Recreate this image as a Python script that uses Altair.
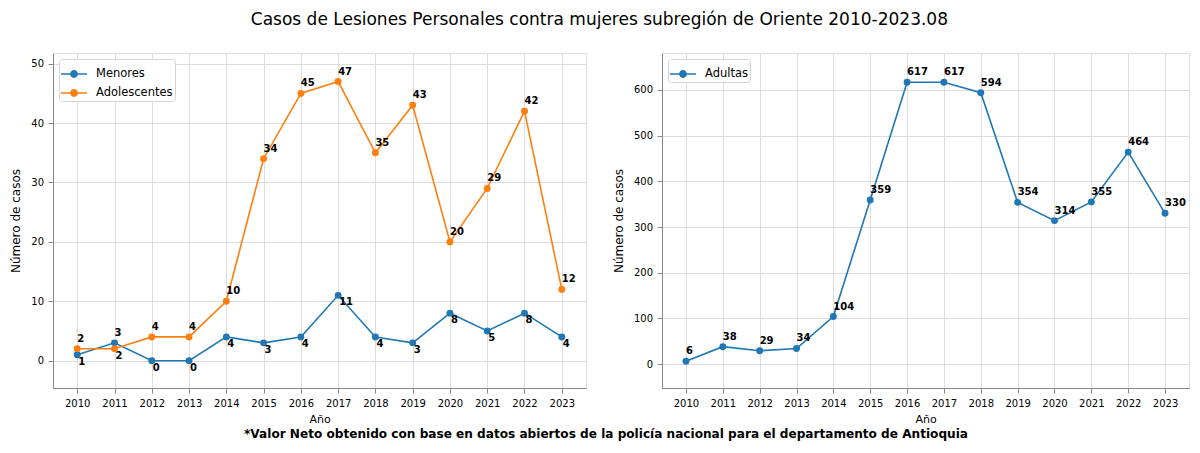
import altair as alt
import pandas as pd

years = list(range(2010, 2024))
menores = [1, 3, 0, 0, 4, 3, 4, 11, 4, 3, 8, 5, 8, 4]
adolescentes = [2, 2, 4, 4, 10, 34, 45, 47, 35, 43, 20, 29, 42, 12]
adultas = [6, 38, 29, 34, 104, 359, 617, 617, 594, 354, 314, 355, 464, 330]

title_text = "Casos de Lesiones Personales contra mujeres subregión de Oriente 2010-2023.08"
foot_text = "*Valor Neto obtenido con base en datos abiertos de la policía nacional para el departamento de Antioquia"

BLUE = "#1f77b4"
ORANGE = "#ff7f0e"
FONT = "DejaVu Sans"
H = 335

# label above the point for the larger series of the pair, below for the smaller
pos_men = ["above" if m > a else "below" for m, a in zip(menores, adolescentes)]
pos_ado = ["above" if a >= m else "below" for m, a in zip(menores, adolescentes)]

left_df = pd.DataFrame(
    {"Año": years * 2,
     "casos": menores + adolescentes,
     "serie": ["Menores"] * 14 + ["Adolescentes"] * 14,
     "pos": pos_men + pos_ado}
)
right_df = pd.DataFrame({"Año": years, "casos": adultas, "serie": ["Adultas"] * 14,
                         "pos": ["above"] * 14})

# legend glyph: short line with a dot in the middle (matplotlib style)
LEG_SYMBOL = ("M-1,-0.055 L1,-0.055 L1,0.055 L-1,0.055 Z "
              "M-0.3,0 A0.3,0.3 0 1,1 0.3,0 A0.3,0.3 0 1,1 -0.3,0 Z")

xenc = alt.X(
    "Año:Q",
    scale=alt.Scale(domain=[2009.35, 2023.65], nice=False, zero=False),
    axis=alt.Axis(values=years, format="d", title="Año", labelFlush=False,
                  tickSize=5, labelPadding=5, titlePadding=5, titleFontWeight="normal"),
)


def panel(df, domain, colors, ydom, yvals, width):
    color = alt.Color(
        "serie:N",
        scale=alt.Scale(domain=domain, range=colors),
        sort=domain,
        legend=alt.Legend(title=None, orient="top-left", offset=6,
                          fillColor="white", strokeColor="#d5d5d5",
                          padding=2, cornerRadius=3, symbolType=LEG_SYMBOL,
                          symbolSize=676, symbolStrokeWidth=0, symbolOpacity=1,
                          labelOffset=9, labelFontSize=11.5, labelFont=FONT,
                          labelColor="black", rowPadding=-5),
    )
    yenc = alt.Y(
        "casos:Q",
        scale=alt.Scale(domain=ydom, nice=False, zero=False),
        axis=alt.Axis(values=yvals, title="Número de casos", tickSize=5,
                      labelPadding=4.5, titlePadding=8, titleFontWeight="normal",
                      titleFontSize=12),
    )
    base = alt.Chart(df).encode(x=xenc, y=yenc, color=color)
    line = base.mark_line(strokeWidth=1.6)
    pts = base.mark_point(filled=True, size=48, opacity=1)
    above = base.transform_filter(alt.datum.pos == "above").mark_text(
        align="left", baseline="middle", dx=0, dy=-10, fontWeight="bold",
        fontSize=10, font=FONT).encode(text="casos:Q", color=alt.value("black"))
    below = base.transform_filter(alt.datum.pos == "below").mark_text(
        align="left", baseline="middle", dx=1, dy=7, fontWeight="bold",
        fontSize=10, font=FONT).encode(text="casos:Q", color=alt.value("black"))
    return alt.layer(line, pts, above, below).properties(width=width, height=H)


left = panel(left_df, ["Menores", "Adolescentes"], [BLUE, ORANGE],
             [-4.6, 51.8], [0, 10, 20, 30, 40, 50], 533)
foot = alt.Chart(pd.DataFrame({"t": [foot_text]})).mark_text(
    fontWeight="bold", fontSize=12.1, font=FONT, color="black", align="center", baseline="middle"
).encode(text="t:N", x=alt.value(553), y=alt.value(H + 46))
left = alt.layer(left, foot)

right = panel(right_df, ["Adultas"], [BLUE], [-52.5, 681],
              [0, 100, 200, 300, 400, 500, 600], 527)

chart = alt.hconcat(left, right, spacing=76, bounds="flush").resolve_scale(
    color="independent").properties(
    title=alt.TitleParams(title_text, fontSize=17, font=FONT, fontWeight="normal",
                          anchor="middle", offset=24, color="black"),
    padding={"left": 1, "top": 2, "right": 0, "bottom": 0},
).configure_axis(
    grid=True, gridColor="#b8b8b8", gridWidth=0.8, domain=False,
    labelFont=FONT, titleFont=FONT, labelFontSize=11, titleFontSize=11.5,
    labelColor="black", titleColor="black", titleFontWeight="normal",
    tickColor="#222222",
).configure_view(stroke="#222222", strokeWidth=1).configure(font=FONT)

chart.save("out.html", embed_options={"renderer": "svg", "actions": False})
